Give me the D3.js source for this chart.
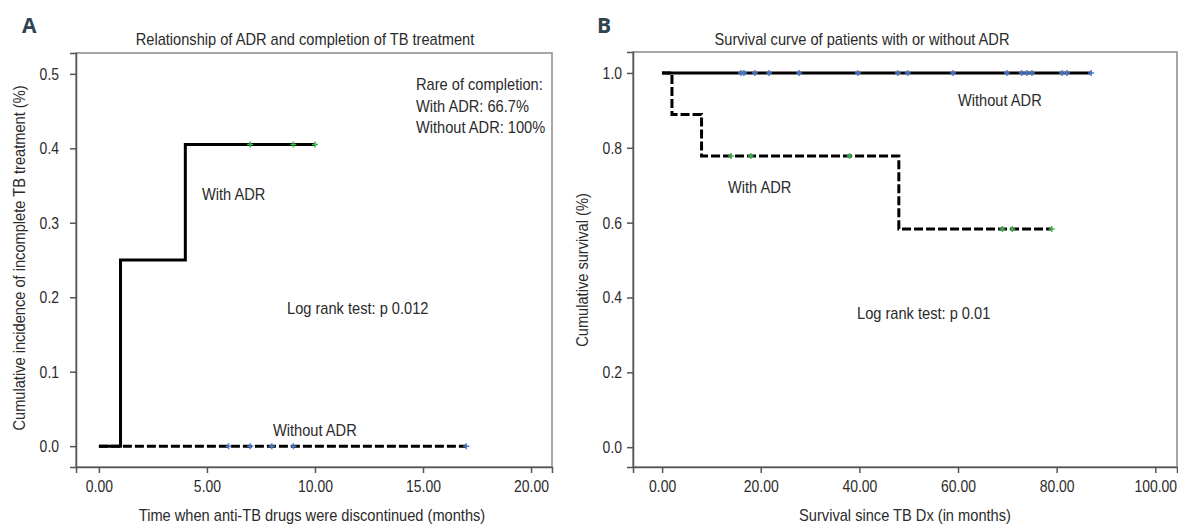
<!DOCTYPE html>
<html>
<head>
<meta charset="utf-8">
<script src="https://cdn.jsdelivr.net/npm/d3@7"></script>
<style>
  body { margin: 0; background: #fff; }
  text { font-family: "Liberation Sans", Arial, sans-serif; fill: #2b2b2b; }
</style>
</head>
<body>
<script>
var W = 1178, H = 526;
var squeeze = 0.86; // the source font is a condensed face

// panel A: incidence of incomplete treatment
var aWithTime = [0, 1, 4, 10];
var aWithVal = [0, 0.25, 0.405, 0.405];
var aWithCensor = [7, 9, 10];
var aWithoutTime = [0, 17];
var aWithoutVal = [0, 0];
var aWithoutCensor = [6, 7, 8, 9, 17];
var aXTicks = [0, 5, 10, 15, 20];
var aYTicks = [0, 0.1, 0.2, 0.3, 0.4, 0.5];

// panel B: survival
var bWithoutTime = [0, 87];
var bWithoutVal = [1, 1];
var bWithoutCensor = [16, 16.6, 18.8, 21.7, 27.8, 39.7, 47.8, 49.8, 59, 69.9, 72.9, 74, 75, 81.1, 82.1, 87];
var bWithTime = [0, 2, 8, 48, 79];
var bWithVal = [1, 0.889, 0.778, 0.583, 0.583];
var bWithCensor = [14, 18, 38, 69, 71, 79];
var bXTicks = [0, 20, 40, 60, 80, 100];
var bYTicks = [0, 0.2, 0.4, 0.6, 0.8, 1.0];

var svg = d3.select("body").append("svg")
  .attr("width", W)
  .attr("height", H)
  .style("background", "#fff");

function panel(o) {
  var x = d3.scaleLinear().domain(o.xDomain).range([o.left, o.right]);
  var y = d3.scaleLinear().domain(o.yDomain).range([o.bottom, o.top]);
  var g = svg.append("g");

  // frame
  g.append("rect")
    .attr("x", o.left).attr("y", o.top)
    .attr("width", o.right - o.left).attr("height", o.bottom - o.top)
    .attr("fill", "none").attr("stroke", "#8a8a8a").attr("stroke-width", 1.5);

  var xa = g.append("g")
    .attr("transform", "translate(0," + o.bottom + ")")
    .call(d3.axisBottom(x).tickValues(o.xTicks).tickFormat(d3.format(".2f")).tickSizeOuter(0).tickSize(6).tickPadding(7));
  var ya = g.append("g")
    .attr("transform", "translate(" + o.left + ",0)")
    .call(d3.axisLeft(y).tickValues(o.yTicks).tickFormat(d3.format(".1f")).tickSizeOuter(0).tickSize(6).tickPadding(o.yPad));
  [xa, ya].forEach(function (a) {
    a.select(".domain").attr("stroke", "#555").attr("stroke-width", 1.5);
    a.selectAll(".tick line").attr("stroke", "#555").attr("stroke-width", 1.5);
    a.selectAll(".tick text").attr("class", "tk").style("font-size", "17px").attr("fill", "#2b2b2b");
  });

  var line = d3.line()
    .x(function (d) { return x(d[0]); })
    .y(function (d) { return y(d[1]); })
    .curve(d3.curveStepAfter);

  o.series.forEach(function (s) {
    var pts = s.time.map(function (t, i) { return [t, s.val[i]]; });
    g.append("path")
      .attr("d", line(pts))
      .attr("fill", "none")
      .attr("stroke", "#000")
      .attr("stroke-width", 3)
      .attr("stroke-dasharray", s.dashed ? "9,3" : null);

    // censor marks
    var cg = g.append("g");
    s.censor.forEach(function (c) {
      // value of the step curve at time c
      var v = s.val[0];
      for (var i = 0; i < s.time.length; i++) { if (s.time[i] <= c) v = s.val[i]; }
      var cx = x(c), cy = y(v);
      cg.append("path")
        .attr("d", "M" + (cx - 3) + "," + cy + "H" + (cx + 3) + "M" + cx + "," + (cy - 3) + "V" + (cy + 3))
        .attr("stroke", s.color)
        .attr("stroke-width", 1.5);
    });
  });

  // title and axis labels
  g.append("text").attr("x", o.titleX).attr("y", 45)
    .attr("text-anchor", "middle").style("font-size", "17px").text(o.title);
  g.append("text").attr("x", o.xLabelX).attr("y", 521)
    .attr("text-anchor", "middle").style("font-size", "17px").text(o.xLabel);
  g.append("text")
    .attr("transform", "translate(" + o.yLabelX + "," + o.yLabelY + ") rotate(-90)")
    .attr("text-anchor", "middle").style("font-size", "17px").text(o.yLabel);
  g.append("text").attr("class", "letter").attr("x", o.letterX).attr("y", 33)
    .style("font-family", "'Open Sans', sans-serif").style("font-weight", "bold")
    .style("font-size", "21px").style("fill", "#2f4450").text(o.letter);

  o.notes.forEach(function (n) {
    g.append("text").attr("x", n[0]).attr("y", n[1])
      .style("font-size", "17px").text(n[2]);
  });
}

panel({
  left: 76, right: 552, top: 53, bottom: 467,
  xDomain: [-1.06, 20.97], yDomain: [-0.028, 0.528],
  xTicks: aXTicks, yTicks: aYTicks, yPad: 11,
  series: [
    { time: aWithTime, val: aWithVal, censor: aWithCensor, dashed: false, color: "#3cb54a" },
    { time: aWithoutTime, val: aWithoutVal, censor: aWithoutCensor, dashed: true, color: "#4a7bd0" }
  ],
  title: "Relationship of ADR and completion of TB treatment", titleX: 305,
  xLabel: "Time when anti-TB drugs were discontinued (months)", xLabelX: 312,
  yLabel: "Cumulative incidence of incomplete TB treatment (%)", yLabelX: 25, yLabelY: 258,
  letter: "A", letterX: 22,
  notes: [
    [416, 90, "Rare of completion:"],
    [416, 112, "With ADR: 66.7%"],
    [416, 133, "Without ADR: 100%"],
    [202, 200, "With ADR"],
    [287, 314, "Log rank test: p 0.012"],
    [273, 436, "Without ADR"]
  ]
});

panel({
  left: 633, right: 1177, top: 52, bottom: 467,
  xDomain: [-5.9, 104.4], yDomain: [-0.053, 1.056],
  xTicks: bXTicks, yTicks: bYTicks, yPad: 5,
  series: [
    { time: bWithoutTime, val: bWithoutVal, censor: bWithoutCensor, dashed: false, color: "#4a7bd0" },
    { time: bWithTime, val: bWithVal, censor: bWithCensor, dashed: true, color: "#3cb54a" }
  ],
  title: "Survival curve of patients with or without ADR", titleX: 862,
  xLabel: "Survival since TB Dx (in months)", xLabelX: 905,
  yLabel: "Cumulative survival (%)", yLabelX: 588, yLabelY: 270,
  letter: "B", letterX: 597,
  notes: [
    [958, 106, "Without ADR"],
    [728, 193, "With ADR"],
    [857, 319, "Log rank test: p 0.01"]
  ]
});

// narrow every label to match the condensed face of the source
svg.selectAll("text").filter(function () { return this.getAttribute("class") !== "letter"; })
  .each(function () {
    var len = this.getComputedTextLength();
    var k = this.getAttribute("class") === "tk" ? 0.82 : squeeze;
    d3.select(this).attr("textLength", len * k).attr("lengthAdjust", "spacingAndGlyphs");
  });
</script>
</body>
</html>
